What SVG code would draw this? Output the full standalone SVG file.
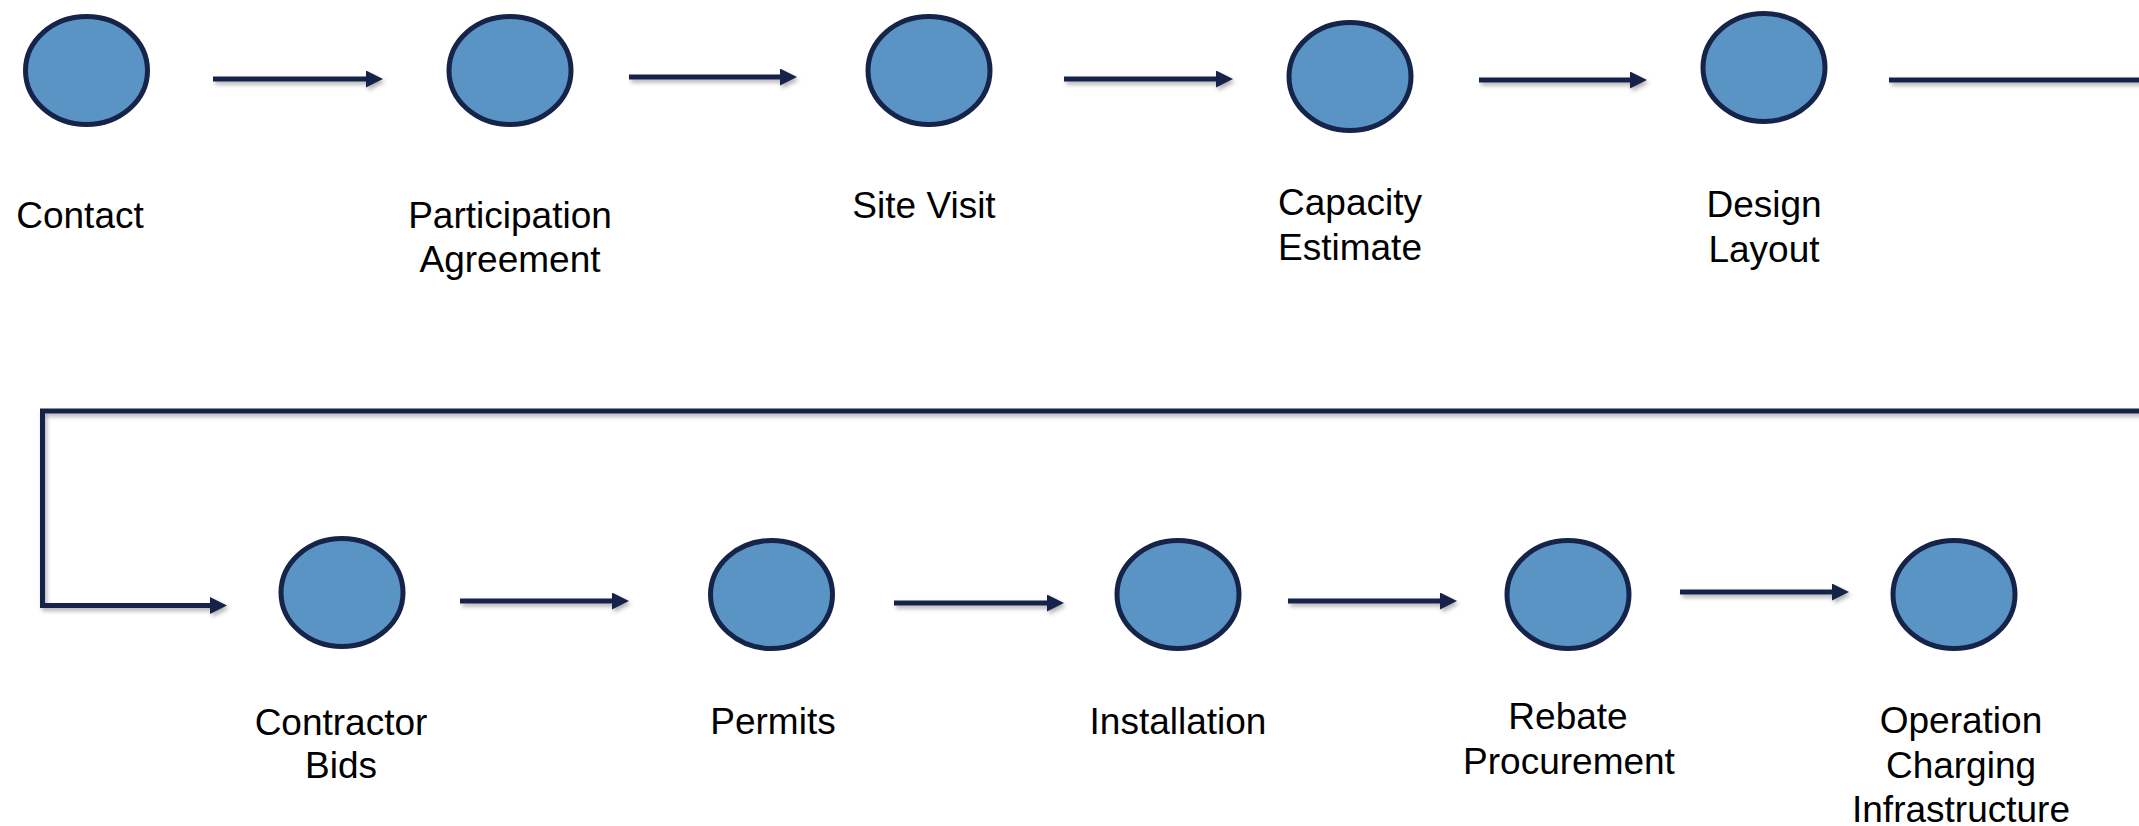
<svg xmlns="http://www.w3.org/2000/svg" width="2139" height="826" viewBox="0 0 2139 826">
<style>
.node ellipse{fill:#5A94C5;stroke:#16244A;stroke-width:5}
.lbl{font-family:"Liberation Sans",Arial,sans-serif;font-size:37px;fill:#000;text-anchor:middle}
.conn path{fill:none;stroke:#17244A;stroke-width:5;stroke-linejoin:miter}
</style>
<defs>
<marker id="ah" markerUnits="userSpaceOnUse" markerWidth="18" markerHeight="18" refX="1" refY="8.5" orient="auto">
<path d="M0,0 L17,8.5 L0,17 Z" fill="#17244A"/>
</marker>
<filter id="sh" x="-5%" y="-50%" width="110%" height="200%">
<feDropShadow dx="2" dy="3" stdDeviation="2" flood-color="#000" flood-opacity="0.3"/>
</filter>
</defs>
<rect width="2139" height="826" fill="#fff"/>
<g id="connectors" class="conn" filter="url(#sh)">
<path d="M213,79 H367" marker-end="url(#ah)"/>
<path d="M629,77 H781" marker-end="url(#ah)"/>
<path d="M1064,79 H1217" marker-end="url(#ah)"/>
<path d="M1479,80 H1631" marker-end="url(#ah)"/>
<path d="M1889,80 H2160 V411 H42.5 V605.5 H211" marker-end="url(#ah)"/>
<path d="M460,601 H613" marker-end="url(#ah)"/>
<path d="M894,603 H1048" marker-end="url(#ah)"/>
<path d="M1288,601 H1441" marker-end="url(#ah)"/>
<path d="M1680,592 H1833" marker-end="url(#ah)"/>
</g>
<g id="n-contact" class="node"><ellipse cx="86.5" cy="70.5" rx="61" ry="54"/><text class="lbl" x="80" y="228">Contact</text></g>
<g id="n-participation" class="node"><ellipse cx="510" cy="70.5" rx="61" ry="54"/><text class="lbl" x="510" y="228">Participation</text><text class="lbl" x="510" y="272">Agreement</text></g>
<g id="n-sitevisit" class="node"><ellipse cx="929" cy="70.5" rx="61" ry="54"/><text class="lbl" x="924" y="218">Site Visit</text></g>
<g id="n-capacity" class="node"><ellipse cx="1350" cy="76.5" rx="61" ry="54"/><text class="lbl" x="1350" y="215">Capacity</text><text class="lbl" x="1350" y="260">Estimate</text></g>
<g id="n-design" class="node"><ellipse cx="1764" cy="67.5" rx="61" ry="54"/><text class="lbl" x="1764" y="217">Design</text><text class="lbl" x="1764" y="262">Layout</text></g>
<g id="n-contractor" class="node"><ellipse cx="342" cy="592.5" rx="61" ry="54"/><text class="lbl" x="341" y="735">Contractor</text><text class="lbl" x="341" y="778">Bids</text></g>
<g id="n-permits" class="node"><ellipse cx="771.5" cy="594.5" rx="61" ry="54"/><text class="lbl" x="773" y="734">Permits</text></g>
<g id="n-installation" class="node"><ellipse cx="1178" cy="594.5" rx="61" ry="54"/><text class="lbl" x="1178" y="734">Installation</text></g>
<g id="n-rebate" class="node"><ellipse cx="1568" cy="594.5" rx="61" ry="54"/><text class="lbl" x="1568" y="729">Rebate</text><text class="lbl" x="1569" y="774">Procurement</text></g>
<g id="n-operation" class="node"><ellipse cx="1954" cy="594.5" rx="61" ry="54"/><text class="lbl" x="1961" y="733">Operation</text><text class="lbl" x="1961" y="778">Charging</text><text class="lbl" x="1961" y="822">Infrastructure</text></g>
</svg>
